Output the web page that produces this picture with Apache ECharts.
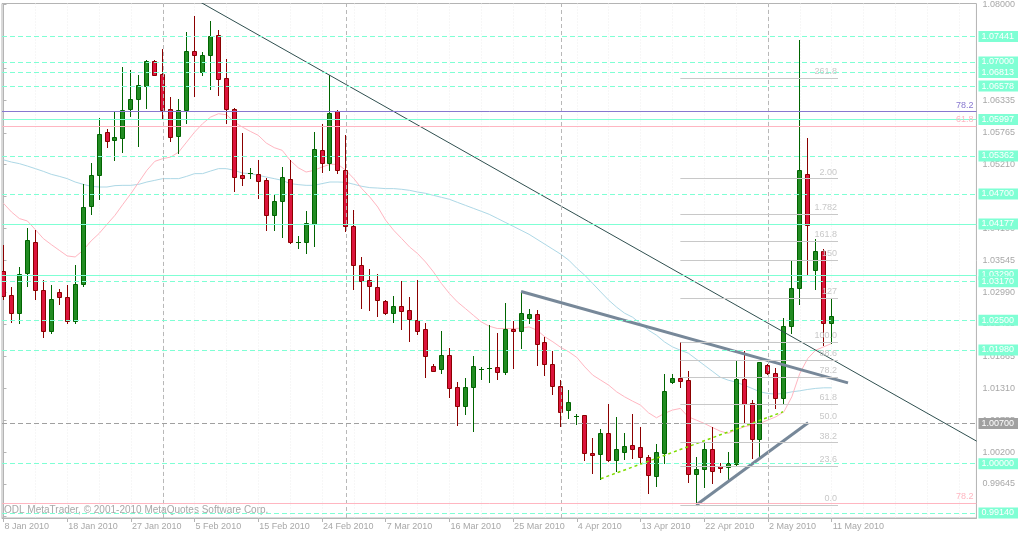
<!DOCTYPE html>
<html><head><meta charset="utf-8">
<script src="https://cdn.jsdelivr.net/npm/echarts@6/dist/echarts.min.js"></script>
<style>html,body{margin:0;padding:0;background:#fff}#c{width:1018px;height:535px}</style>
</head><body><div id="c"></div>
<script>
// ---- data (daily bars, 8 Jan 2010 .. 11 May 2010) ----
const opens = [1.03352,1.02935,1.02616,1.03330,1.03869,1.03034,1.02303,1.02982,1.02895,1.02477,
1.03131,1.04496,1.05036,1.05784,1.05645,1.05680,1.06178,1.06352,1.06578,1.07020,
1.06782,1.06172,1.05708,1.06160,1.07182,1.06829,1.07117,1.07460,1.06724,1.06184,
1.05023,1.05046,1.05053,1.04936,1.04332,1.04576,1.04954,1.03845,1.03862,1.04176,
1.05459,1.05238,1.06137,1.05110,1.04148,1.03465,1.03204,1.03086,1.02842,1.02626,
1.02755,1.02673,1.02499,1.02343,1.01693,1.01641,1.01885,1.01333,1.01008,1.01328,
1.01624,1.01646,1.01676,1.01599,1.02343,1.02313,1.02546,1.02604,1.02116,1.01728,
1.01350,1.00928,1.00806,1.00840,1.00184,1.00162,1.00532,1.00057,1.00196,1.00324,
1.00294,1.00109,0.99779,1.00190,1.01415,1.01490,1.01455,0.99814,0.99900,1.00249,
0.99958,0.99946,0.99993,1.01472,1.01049,1.00423,1.01716,1.01572,1.01136,1.02395,
1.03069,1.05053,1.03382,1.03700,1.02442];
const highs = [1.03805,1.03079,1.03427,1.04113,1.04078,1.03196,1.03109,1.03051,1.03109,1.03457,
1.04867,1.05232,1.06016,1.05824,1.06120,1.06903,1.06863,1.06764,1.07025,1.07037,
1.07217,1.06381,1.06352,1.07513,1.07796,1.07164,1.07721,1.07547,1.07055,1.06198,
1.05767,1.05157,1.05298,1.04983,1.04693,1.05163,1.05285,1.03962,1.04397,1.05772,
1.05923,1.06764,1.06167,1.05720,1.04414,1.03596,1.03387,1.03300,1.02848,1.02917,
1.03183,1.02895,1.03208,1.02459,1.01734,1.02313,1.02007,1.01420,1.01490,1.01868,
1.01676,1.02412,1.02273,1.02795,1.02482,1.02999,1.02691,1.02673,1.02198,1.01965,
1.01455,1.01281,1.00863,1.00846,1.00445,1.00602,1.01037,1.00811,1.00532,1.00863,
1.00642,1.00149,1.00336,1.01559,1.01559,1.02122,1.01612,1.00120,1.00371,1.00632,
1.00005,1.00207,1.01786,1.01965,1.01107,1.01774,1.01728,1.01659,1.02546,1.03526,
1.07373,1.05680,1.03909,1.03735,1.02865];
const lows = [1.02877,1.02470,1.02452,1.03091,1.02860,1.02198,1.02278,1.02790,1.02442,1.02452,
1.03103,1.04357,1.04606,1.05516,1.05290,1.05429,1.06056,1.05533,1.06195,1.06764,
1.06016,1.05620,1.05419,1.05934,1.06404,1.06769,1.06520,1.06428,1.05941,1.04750,
1.04858,1.04975,1.04632,1.04071,1.04066,1.03949,1.03852,1.03765,1.03671,1.03793,
1.05081,1.05110,1.05063,1.04049,1.03039,1.02713,1.02679,1.02574,1.02613,1.02470,
1.02338,1.02139,1.02256,1.01512,1.01608,1.01582,1.01164,1.00677,1.00868,1.00572,
1.01478,1.01425,1.01478,1.01554,1.01669,1.02017,1.02459,1.01721,1.01547,1.01216,
1.00654,1.00799,1.00684,1.00062,0.99841,0.99737,1.00050,0.99876,1.00075,1.00092,
1.00015,0.99493,0.99610,1.00005,1.01398,1.01338,0.99685,0.99279,0.99587,0.99657,
0.99848,0.99685,0.99975,1.00701,1.00092,1.00092,1.01559,1.00973,1.01049,1.02278,
1.02790,1.03283,1.03051,1.02064,1.02104];
const closes = [1.02922,1.02616,1.03312,1.03904,1.03034,1.02303,1.02860,1.02895,1.02477,1.03138,
1.04479,1.05036,1.05749,1.05627,1.05685,1.06167,1.06346,1.06590,1.07008,1.06769,
1.06160,1.05690,1.06155,1.07182,1.07117,1.07112,1.07443,1.06700,1.06184,1.04997,
1.04983,1.05058,1.04931,1.04332,1.04583,1.04989,1.03862,1.03857,1.04188,1.05476,
1.05238,1.06103,1.05110,1.04141,1.03462,1.03183,1.03096,1.02853,1.02626,1.02755,
1.02668,1.02522,1.02313,1.01878,1.01617,1.01885,1.01311,1.01008,1.01333,1.01693,
1.01646,1.01664,1.01599,1.02343,1.02313,1.02621,1.02604,1.02087,1.01728,1.01356,
1.00903,1.01072,1.00834,1.00179,1.00144,1.00532,1.00057,1.00254,1.00306,1.00254,
1.00109,0.99801,1.00196,1.01269,1.01490,1.01443,0.99814,0.99906,1.00254,0.99876,
0.99928,1.00005,1.01472,1.01042,1.00423,1.01763,1.01572,1.01136,1.02395,1.03069,
1.05123,1.04165,1.03700,1.02442,1.02569];
// fast moving average (pink) and slow moving average (light blue), read per bar
const maFast = [1.04536,1.04385,1.04270,1.04228,1.04078,1.03922,1.03817,1.03718,1.03619,1.03601,
1.03718,1.03880,1.04009,1.04170,1.04327,1.04519,1.04705,1.04907,1.05110,1.05267,
1.05314,1.05342,1.05429,1.05603,1.05777,1.05923,1.06038,1.06097,1.06080,1.05951,
1.05864,1.05789,1.05720,1.05586,1.05506,1.05459,1.05285,1.05157,1.05081,1.05110,
1.05168,1.05215,1.05215,1.05110,1.04966,1.04792,1.04646,1.04472,1.04240,1.04066,
1.03922,1.03775,1.03660,1.03514,1.03340,1.03138,1.02964,1.02818,1.02703,1.02586,
1.02470,1.02395,1.02355,1.02355,1.02355,1.02360,1.02383,1.02325,1.02209,1.02122,
1.02024,1.01948,1.01850,1.01686,1.01542,1.01455,1.01368,1.01251,1.01164,1.01089,
1.01020,1.00886,1.00799,1.00875,1.00933,1.00962,1.00816,1.00759,1.00701,1.00632,
1.00567,1.00527,1.00585,1.00642,1.00672,1.00701,1.00759,1.00816,1.00903,1.01164,
1.01572,1.01833,1.01977,1.02035,1.02094];
const maSlow = [1.05293,1.05255,1.05227,1.05185,1.05140,1.05093,1.05041,1.05006,1.04966,1.04907,
1.04867,1.04832,1.04820,1.04820,1.04844,1.04849,1.04849,1.04867,1.04907,1.04936,
1.04966,1.04966,1.04966,1.05006,1.05053,1.05053,1.05098,1.05140,1.05140,1.05110,
1.05063,1.05053,1.05023,1.04994,1.04966,1.04936,1.04879,1.04862,1.04849,1.04849,
1.04879,1.04907,1.04907,1.04902,1.04867,1.04832,1.04809,1.04802,1.04792,1.04792,
1.04780,1.04762,1.04733,1.04710,1.04675,1.04640,1.04606,1.04553,1.04501,1.04449,
1.04397,1.04344,1.04275,1.04205,1.04136,1.04066,1.03996,1.03909,1.03822,1.03735,
1.03648,1.03544,1.03404,1.03283,1.03138,1.02992,1.02848,1.02726,1.02621,1.02552,
1.02442,1.02325,1.02238,1.02122,1.02035,1.01977,1.01925,1.01821,1.01716,1.01612,
1.01507,1.01455,1.01420,1.01368,1.01311,1.01251,1.01223,1.01211,1.01223,1.01251,
1.01269,1.01293,1.01311,1.01321,1.01321];
// x axis tick labels (every 8th bar)
const tickBars = [0,8,16,24,32,40,48,56,64,72,80,88,96,104];
const tickLabels = ['8 Jan 2010','18 Jan 2010','27 Jan 2010','5 Feb 2010','15 Feb 2010','24 Feb 2010','7 Mar 2010','16 Mar 2010','25 Mar 2010','4 Apr 2010','13 Apr 2010','22 Apr 2010','2 May 2010','11 May 2010'];
const gridBars = [0,4,8,12,16,20,24,28,32,36,40,44,48,52,56,60,64,68,72,76,80,84,88,92,96,100,104,108,112,116,120];
const yTicks = [1.08000,1.07445,1.06890,1.06335,1.05765,1.05210,1.04655,1.04100,1.03545,1.02990,1.02435,1.01865,1.01310,1.00755,1.00200,0.99645,0.99090];
// month separators (bar index of first bar of month)
const separators = [20,43,70,96];
// horizontal price levels
const levelsDashed = [1.07441,1.07000,1.06813,1.06578,1.05362,1.04700,1.03170,1.02500,1.01980,1.00000,0.99140];
const levelsSolid = [1.05997,1.04177,1.03290];
const grayLevel = 1.00700;
const bidPrice = 1.02567;
// fibonacci retracement (anchor high bar 85, low bar 87)
const fibHigh = 1.02122, fibLow = 0.99279, fibFrom = 85, fibTo = 104.8;
const fibRatios = [0,0.236,0.382,0.5,0.618,0.782,0.886,1.0,1.27,1.5,1.618,1.782,2.0,2.618];
const fibTexts = ['0.0','23.6','38.2','50.0','61.8','78.2','88.6','100.0','127','150','161.8','1.782','2.00','261.8'];
// full-width fib lines
const fibWide = [{v:1.06132,t:'78.2',c:'#8878d0'},{v:1.05876,t:'61.8',c:'#ffb6c1'},{v:0.99309,t:'78.2',c:'#ffb6c1'}];
// trendlines [bar, price]
const trendDown = [[24,1.08098],[122.2,1.00392]];
const triUpper = [[65,1.02999],[106.05,1.01408]];
const triLower = [[87,0.99279],[101.05,1.00712]];
const limeLine = [[75,0.99737],[97.9,1.00903]];

const FONT = '"Liberation Sans", Arial, sans-serif';
const candleData = opens.map((o,i)=>[i,o,closes[i],lows[i],highs[i]]);

const chart = echarts.init(document.getElementById('c'), null, {renderer:'canvas'});
const XMIN = -0.1875, XMAX = 122.1875;

const levelMarks = [];
levelsDashed.forEach(v=>levelMarks.push({v, lineStyle:{color:'#7fffd4', type:[5,3], width:1}, tag:'#7fffd4'}));
levelsSolid.forEach(v=>levelMarks.push({v, lineStyle:{color:'#7fffd4', type:'solid', width:1}, tag:'#7fffd4'}));
levelMarks.push({v:grayLevel, lineStyle:{color:'#a0a0a0', type:[5,3], width:1}, tag:'#a0a0a0'});
levelMarks.push({v:bidPrice, lineStyle:{opacity:0}, tag:'#a9a9a9'});
// drawing order for overlapping tags
const order = [1.07441,1.07000,1.06813,1.06578,1.05997,1.05362,1.04700,1.04177,1.03290,1.03170,1.02567,1.02500,1.01980,1.00700,1.00000,0.99140];
levelMarks.sort((a,b)=>order.indexOf(a.v)-order.indexOf(b.v));
const levelData = levelMarks.map(m=>[
  {coord:[XMIN,m.v], lineStyle:m.lineStyle,
   label:{show:true, position:'end', distance:2, formatter:m.v.toFixed(5), color:'#ffffff',
    backgroundColor:m.tag, padding:[1,5,1,3], fontSize:9, lineHeight:9, fontFamily:FONT}},
  {coord:[XMAX,m.v]}
]);

const fibData = fibRatios.map((r,k)=>{
  const p = fibLow + r*(fibHigh-fibLow);
  return [{coord:[fibFrom,p], label:{formatter:fibTexts[k]}}, {coord:[fibTo,p]}];
});

const wideData = fibWide.map(f=>[
  {coord:[XMIN,f.v], lineStyle:{color:f.c, width:1, type:'solid'},
   label:{show:true, position:'insideEndTop', distance:[3,2], formatter:f.t, color:f.c, fontSize:9, fontFamily:FONT}},
  {coord:[XMAX,f.v]}
]);

function lineSeries(name, pts, color, width, type, z){
  return {name, type:'line', data:pts, showSymbol:false, symbol:'none', silent:true, z:z||4,
    lineStyle:{color, width, type:type||'solid'}, animation:false};
}

const option = {
  animation:false,
  backgroundColor:'#ffffff',
  grid:{left:2, top:3, right:37, bottom:17, show:true, borderColor:'#b4b4b4', borderWidth:1, backgroundColor:'transparent'},
  xAxis:[{
    type:'value', min:XMIN, max:XMAX, position:'bottom',
    axisLine:{show:true, lineStyle:{color:'#b4b4b4'}},
    axisTick:{show:true, length:4, customValues:tickBars, lineStyle:{color:'#b4b4b4'}},
    axisLabel:{customValues:tickBars, formatter:(v)=>tickLabels[tickBars.indexOf(Math.round(v))]||'',
      align:'left', margin:4, fontSize:9, color:'#a8a8a8', fontFamily:FONT, padding:[0,0,0,1]},
    splitLine:{show:false}
  },{
    type:'value', min:XMIN, max:XMAX, position:'top', gridIndex:0,
    axisLine:{show:false}, axisTick:{show:false, customValues:gridBars}, axisLabel:{show:false},
    splitLine:{show:true, lineStyle:{color:'#efefef', type:[1,2], width:1}}
  }],
  yAxis:{
    type:'value', position:'right', min:0.990528, max:1.080174, scale:true,
    axisLine:{show:true, lineStyle:{color:'#b4b4b4'}},
    axisTick:{show:true, length:3, customValues:yTicks, lineStyle:{color:'#b4b4b4'}},
    axisLabel:{customValues:yTicks, formatter:(v)=>v.toFixed(5), margin:6, fontSize:9, color:'#a8a8a8', fontFamily:FONT},
    splitLine:{show:false}
  },
  graphic:[{type:'text', left:4, top:505, silent:true,
    style:{text:'ODL MetaTrader, © 2001-2010 MetaQuotes Software Corp.', fill:'#a8a8a8', font:'10px "Liberation Sans", Arial, sans-serif'}}],
  series:[
    {name:'separators', type:'line', data:[], z:1, silent:true, clip:false,
      markLine:{symbol:['none','none'], silent:true, animation:false, label:{show:false},
        lineStyle:{color:'#b8b8b8', type:[4,3], width:1}, data:separators.map(b=>({xAxis:b}))}},
    {name:'levels', type:'line', data:[], z:1, silent:true, clip:false,
      markLine:{symbol:['none','none'], silent:true, animation:false, data:levelData}},
    {name:'fibwide', type:'line', data:[], z:1, silent:true, clip:false,
      markLine:{symbol:['none','none'], silent:true, animation:false, data:wideData}},
    {name:'fib', type:'line', data:[], z:1, silent:true, clip:false,
      markLine:{symbol:['none','none'], silent:true, animation:false,
        lineStyle:{color:'#c8c8c8', width:1, type:'solid'},
        label:{show:true, position:'insideEndTop', distance:[1,2], color:'#c8c8c8', fontSize:9, fontFamily:FONT},
        data:fibData}},
    lineSeries('maSlow', maSlow.map((v,i)=>[i,v]), '#add8e6', 1, 'solid', 2),
    lineSeries('maFast', maFast.map((v,i)=>[i,v]), '#ffb6c1', 1, 'solid', 2),
    {name:'candles', type:'custom', z:3, silent:true, clip:true, animation:false,
      encode:{x:0, y:[1,2,3,4]}, data:candleData,
      renderItem:function(params, api){
        const i=api.value(0), o=api.value(1), c=api.value(2), l=api.value(3), h=api.value(4);
        const po=api.coord([i,o]), pc=api.coord([i,c]), pl=api.coord([i,l]), ph=api.coord([i,h]);
        const x=Math.round(po[0]-0.5)+0.5;
        const bull=c>=o;
        const stroke=bull?'#006400':'#8b0000', fill=bull?'#228b22':'#dc143c';
        const yt=Math.round(Math.min(po[1],pc[1]))+0.5, yb=Math.round(Math.max(po[1],pc[1]))+0.5;
        const ch=[{type:'line', shape:{x1:x,y1:Math.round(ph[1]),x2:x,y2:Math.round(pl[1])+1}, style:{stroke, lineWidth:1}}];
        if (yb-yt<2) ch.push({type:'line', shape:{x1:x-2.5,y1:yt,x2:x+2.5,y2:yt}, style:{stroke, lineWidth:1}});
        else ch.push({type:'rect', shape:{x:x-2,y:yt,width:4,height:yb-yt}, style:{fill, stroke, lineWidth:1}});
        return {type:'group', children:ch};
      }},
    lineSeries('trendDown', trendDown, '#2f4f4f', 1, 'solid', 4),
    lineSeries('triUpper', triUpper, '#778899', 3, 'solid', 4),
    lineSeries('triLower', triLower, '#778899', 3, 'solid', 4),
    lineSeries('lime', limeLine, '#7fdd00', 1.5, [3,3], 4)
  ]
};
chart.setOption(option);
</script>
</body></html>
